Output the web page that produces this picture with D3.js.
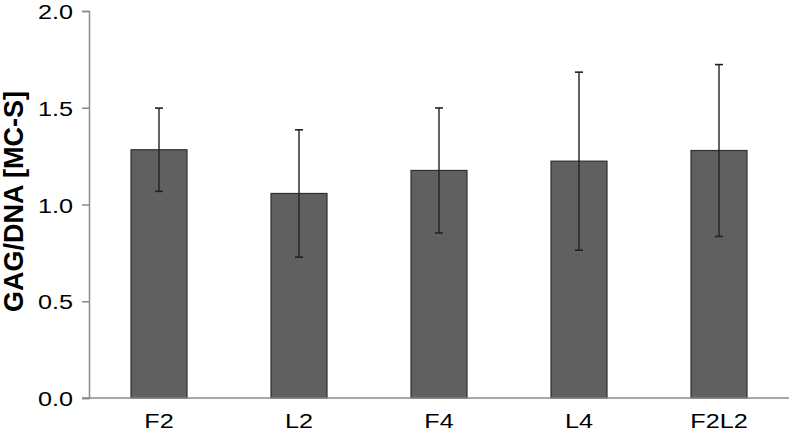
<!DOCTYPE html>
<html>
<meta charset="utf-8">
<head>
<script src="https://d3js.org/d3.v7.min.js"></script>
<style>
    body { margin: 0; background: #fff; }
    .tick text { font-family: "Liberation Sans", Arial, sans-serif; fill: #000; }
</style>
</head>
<body>
<div id="chart"></div>
<script>
    // values
    var groups = ["F2", "L2", "F4", "L4", "F2L2"];
    var means  = [1.283, 1.057, 1.176, 1.224, 1.279];
    var errs   = [0.215, 0.329, 0.323, 0.460, 0.444];
    var yTicks = [0, 0.5, 1.0, 1.5, 2.0];

    var W = 791, H = 434;
    var margin = {top: 11, right: 2, bottom: 36, left: 89};
    var width = W - margin.left - margin.right,
        height = H - margin.top - margin.bottom;

    // the original text is a bit wider than it is tall
    var sx = 1.2;

    var svg = d3.select("#chart").append("svg")
        .attr("width", W)
        .attr("height", H)
      .append("g")
        .attr("transform", "translate(" + margin.left + "," + margin.top + ")");

    var x = d3.scaleBand().domain(groups).range([0, width]).paddingInner(0.6).paddingOuter(0.3);
    var y = d3.scaleLinear().domain([0, 2]).range([height, 0]);

    var data = groups.map(function(g, i) { return {g: g, m: means[i], e: errs[i]}; });

    // bars
    svg.selectAll(".bar")
        .data(data)
      .enter().append("rect")
        .attr("x", function(d) { return x(d.g); })
        .attr("y", function(d) { return y(d.m); })
        .attr("width", x.bandwidth())
        .attr("height", function(d) { return height - y(d.m); })
        .attr("fill", "#606060")
        .attr("stroke", "#303030")
        .attr("stroke-width", 1.2);

    // error bars
    var cx = function(d) { return x(d.g) + x.bandwidth() / 2; };
    svg.selectAll(".err")
        .data(data)
      .enter().append("line")
        .attr("x1", cx).attr("x2", cx)
        .attr("y1", function(d) { return y(d.m + d.e); })
        .attr("y2", function(d) { return y(d.m - d.e); })
        .attr("stroke", "#222").attr("stroke-width", 1.4);
    ["top", "bot"].forEach(function(k) {
        svg.selectAll(".cap" + k)
            .data(data)
          .enter().append("line")
            .attr("x1", function(d) { return cx(d) - 4; })
            .attr("x2", function(d) { return cx(d) + 4; })
            .attr("y1", function(d) { return y(k == "top" ? d.m + d.e : d.m - d.e); })
            .attr("y2", function(d) { return y(k == "top" ? d.m + d.e : d.m - d.e); })
            .attr("stroke", "#222").attr("stroke-width", 1.6);
    });

    // y axis
    var yAxis = svg.append("g")
        .call(d3.axisLeft(y).tickValues(yTicks).tickFormat(d3.format(".1f")).tickSizeOuter(0).tickSize(7));
    yAxis.selectAll("text")
        .style("font-size", "21px")
        .attr("x", -16 / sx)
        .attr("dy", "0.36em")
        .attr("transform", "scale(" + sx + ",1)");

    // x axis with ticks between categories
    var xAxis = svg.append("g")
        .attr("transform", "translate(0," + height + ")")
        .call(d3.axisBottom(x).tickSize(0).tickPadding(15));
    xAxis.selectAll("text")
        .style("font-size", "21px")
        .attr("transform", "scale(" + sx + ",1)");
    xAxis.select(".domain").attr("d", "M-7,0H" + width);
    var step = x.step();
    xAxis.selectAll(".sep")
        .data(d3.range(groups.length + 1))
      .enter().append("line")
        .attr("x1", function(i) { return x(groups[0]) - x.paddingOuter() * step + i * step; })
        .attr("x2", function(i) { return x(groups[0]) - x.paddingOuter() * step + i * step; })
        .attr("y1", 0).attr("y2", 7);

    svg.selectAll(".domain, .tick line, .sep")
        .attr("stroke", "#8a8a8a").attr("stroke-width", 1.5);

    // y label
    svg.append("text")
        .attr("transform", "translate(" + (-66) + "," + (y(1) - 3) + ") rotate(-90)")
        .attr("text-anchor", "middle")
        .style("font-family", "'Liberation Sans', Arial, sans-serif")
        .style("font-weight", "bold")
        .style("font-size", "27px")
        .text("GAG/DNA [MC-S]");
</script>
</body>
</html>
